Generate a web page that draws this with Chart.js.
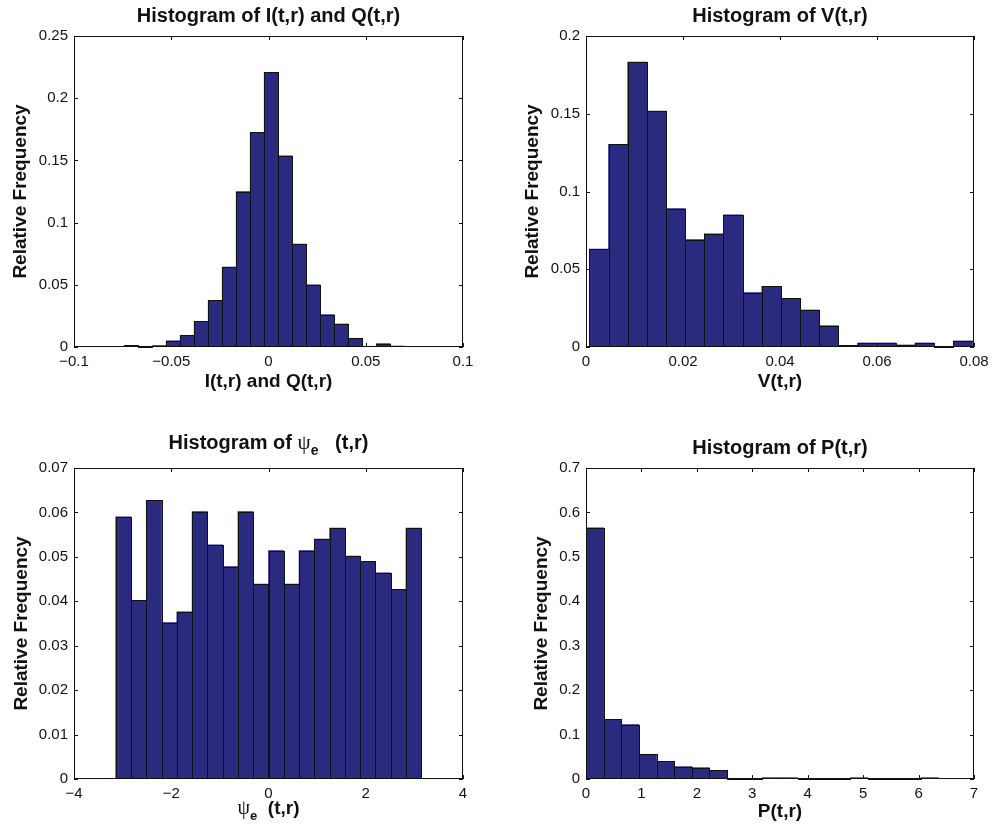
<!DOCTYPE html>
<html>
<head>
<meta charset="utf-8">
<script src="https://cdn.jsdelivr.net/npm/chart.js@4.4.1/dist/chart.umd.min.js"></script>
<style>
  html, body { margin: 0; padding: 0; background: #fff; }
  #page { position: relative; width: 995px; height: 827px; }
  canvas { position: absolute; }
</style>
</head>
<body>
<div id="page">
  <canvas id="chartIQ" width="497" height="413" style="left:0;top:0"></canvas>
  <canvas id="chartV" width="498" height="413" style="left:497px;top:0"></canvas>
  <canvas id="chartPsi" width="497" height="414" style="left:0;top:413px"></canvas>
  <canvas id="chartP" width="498" height="414" style="left:497px;top:413px"></canvas>
</div>
<script>
// bin centres + relative frequencies
const iqCenters = [-0.0706, -0.0634, -0.0562, -0.0490, -0.0418, -0.0346, -0.0274, -0.0202, -0.0130, -0.0058,
                   0.0014, 0.0086, 0.0158, 0.0230, 0.0302, 0.0374, 0.0446, 0.0518, 0.0590, 0.0662];
const iqFreq = [0.0013, 0, 0.0012, 0.005, 0.0094, 0.0206, 0.0375, 0.0642, 0.125, 0.1726,
                0.2208, 0.1536, 0.0827, 0.050, 0.026, 0.0185, 0.007, 0.0006, 0.0027, 0.0008];

const vCenters = [0.00267, 0.00662, 0.01057, 0.01452, 0.01847, 0.02242, 0.02637, 0.03032, 0.03427, 0.03822,
                  0.04217, 0.04612, 0.05007, 0.05402, 0.05797, 0.06192, 0.06587, 0.06982, 0.07377, 0.07772];
const vFreq = [0.0629, 0.1303, 0.1833, 0.1517, 0.089, 0.0691, 0.0727, 0.085, 0.035, 0.039,
               0.0313, 0.0238, 0.0137, 0.001, 0.0026, 0.0026, 0.0013, 0.0026, 0, 0.0039];

const psiCenters = [-2.9845, -2.6704, -2.3562, -2.0420, -1.7279, -1.4137, -1.0996, -0.7854, -0.4712, -0.1571,
                    0.1571, 0.4712, 0.7854, 1.0996, 1.4137, 1.7279, 2.0420, 2.3562, 2.6704, 2.9845];
const psiFreq = [0.059, 0.0402, 0.0627, 0.0352, 0.0376, 0.0602, 0.0527, 0.0478, 0.0602, 0.0439,
                 0.0514, 0.0439, 0.0514, 0.054, 0.0565, 0.0502, 0.049, 0.0464, 0.0427, 0.0565];

const pCenters = [0.159, 0.477, 0.795, 1.113, 1.431, 1.749, 2.067, 2.385, 2.703, 3.021,
                  3.339, 3.657, 3.975, 4.293, 4.611, 4.929, 5.247, 5.565, 5.883, 6.201];
const pFreq = [0.5656, 0.1344, 0.1224, 0.0556, 0.0398, 0.0278, 0.0255, 0.0195, 0.0005, 0.0005,
               0.003, 0.003, 0.001, 0.001, 0.001, 0.003, 0.0005, 0.0005, 0.001, 0.003];

const navy = '#2a2a7e';
const ink = '#111111';
const sans = "'Liberation Sans', Arial, Helvetica, sans-serif";

Chart.defaults.font.family = sans;
Chart.defaults.color = ink;

const fmt = v => {
    const r = Math.round(v * 1e6) / 1e6;
    return r < 0 ? '\u2212' + (-r) : String(r);
};

// matlab style box with ticks pointing inwards on all sides
const boxAxes = {
    id: 'boxAxes',
    beforeDatasetsDraw(chart) {
        const { ctx, chartArea: a, scales: { x, y } } = chart;
        const len = 4;
        ctx.save();
        ctx.strokeStyle = ink;
        ctx.lineWidth = 1;
        ctx.beginPath();
        x.ticks.forEach(t => {
            const px = Math.round(x.getPixelForValue(t.value)) + 0.5;
            ctx.moveTo(px, a.bottom); ctx.lineTo(px, a.bottom - len);
            ctx.moveTo(px, a.top); ctx.lineTo(px, a.top + len);
        });
        y.ticks.forEach(t => {
            const py = Math.round(y.getPixelForValue(t.value)) + 0.5;
            ctx.moveTo(a.left, py); ctx.lineTo(a.left + len, py);
            ctx.moveTo(a.right, py); ctx.lineTo(a.right - len, py);
        });
        ctx.stroke();
        ctx.strokeRect(Math.round(a.left) + 0.5, Math.round(a.top) + 0.5,
            Math.round(a.right - a.left) - 1, Math.round(a.bottom - a.top) - 1);
        ctx.restore();
    },
};

// crisp black patch edges around every bar, like matlab's hist
const barEdges = {
    id: 'barEdges',
    afterDatasetsDraw(chart) {
        const { ctx } = chart;
        const snap = v => Math.round(v) + 0.5;
        ctx.save();
        ctx.strokeStyle = ink;
        ctx.lineWidth = 1;
        chart.getDatasetMeta(0).data.forEach(bar => {
            const { x, y, base, width } = bar.getProps(['x', 'y', 'base', 'width'], true);
            const l = snap(x - width / 2), r = snap(x + width / 2);
            const t = snap(Math.min(y, base)), b = snap(Math.max(y, base)) - 1;
            ctx.strokeRect(l, t, r - l, b - t);
        });
        ctx.restore();
    },
};

function drawRuns(ctx, runs, cx, baseline) {
    ctx.save();
    ctx.fillStyle = ink;
    ctx.textBaseline = 'alphabetic';
    ctx.textAlign = 'left';
    let total = 0;
    runs.forEach(r => { ctx.font = r[1]; total += ctx.measureText(r[0]).width; });
    let x = cx - total / 2;
    runs.forEach(r => {
        ctx.font = r[1];
        ctx.fillText(r[0], x, baseline + r[2]);
        x += ctx.measureText(r[0]).width;
    });
    ctx.restore();
}

// title and x label with the subscript e
const psiLabels = {
    id: 'psiLabels',
    afterDraw(chart) {
        const { ctx, chartArea: a } = chart;
        const cx = (a.left + a.right) / 2;
        drawRuns(ctx, [
            ['Histogram of ', 'bold 20px ' + sans, 0],
            ['\u03c8', "21px 'Liberation Serif', serif", 0],
            ['e', 'bold 14px ' + sans, 6],
            ['   (t,r)', 'bold 20px ' + sans, 0],
        ], cx, a.top - 19);
        drawRuns(ctx, [
            ['\u03c8', "20px 'Liberation Serif', serif", 0],
            ['e', 'bold 13px ' + sans, 6],
            ['  (t,r)', 'bold 19px ' + sans, 0],
        ], cx, a.bottom + 35);
    },
};

function histogram(id, centers, freq, o) {
    return new Chart(document.getElementById(id), {
        type: 'bar',
        data: {
            datasets: [{
                data: centers.map((c, i) => ({ x: c, y: freq[i] })),
                backgroundColor: navy,
                borderWidth: 0,
                barPercentage: 1,
                categoryPercentage: 1,
            }],
        },
        options: {
            responsive: false,
            animation: false,
            layout: { padding: { left: 0, top: o.padTop || 0, right: o.padRight, bottom: 0 } },
            plugins: {
                legend: { display: false },
                tooltip: { enabled: false },
                title: {
                    display: !!o.title,
                    text: o.title,
                    fullSize: false,
                    color: ink,
                    font: { size: 20, weight: 'bold', lineHeight: 1.2 },
                    padding: o.titlePad,
                },
            },
            scales: {
                x: {
                    type: 'linear',
                    min: o.xMin, max: o.xMax,
                    offset: false,
                    grid: { display: false, drawTicks: false, offset: false },
                    border: { display: false },
                    ticks: { stepSize: o.xStep, autoSkip: false, maxRotation: 0, padding: 6,
                             color: ink, font: { size: 15 }, callback: fmt },
                    title: { display: !!o.xTitle, text: o.xTitle, color: ink,
                             font: { size: 19, weight: 'bold', lineHeight: 1.2 },
                             padding: { top: 0, bottom: o.xTitlePad || 0 } },
                    afterFit: s => { s.height = o.xHeight; },
                },
                y: {
                    min: 0, max: o.yMax,
                    grid: { display: false, drawTicks: false },
                    border: { display: false },
                    ticks: { stepSize: o.yStep, padding: 6, color: ink, font: { size: 15 }, callback: fmt },
                    title: { display: true, text: 'Relative Frequency', color: ink,
                             font: { size: 19, weight: 'bold', lineHeight: 1.2 },
                             padding: { top: o.yTitlePad, bottom: 0 } },
                    afterFit: s => { s.width = o.yWidth; },
                },
            },
        },
        plugins: [boxAxes, barEdges].concat(o.extra || []),
    });
}

histogram('chartIQ', iqCenters, iqFreq, {
    title: 'Histogram of I(t,r) and Q(t,r)', titlePad: { top: 4, bottom: 8 },
    xTitle: 'I(t,r) and Q(t,r)', xTitlePad: 19.6,
    xMin: -0.1, xMax: 0.1, xStep: 0.05, yMax: 0.25, yStep: 0.05,
    padRight: 34, yWidth: 74, xHeight: 66, yTitlePad: 9,
});

histogram('chartV', vCenters, vFreq, {
    title: 'Histogram of V(t,r)', titlePad: { top: 4, bottom: 8 },
    xTitle: 'V(t,r)', xTitlePad: 19.6,
    xMin: 0, xMax: 0.08, xStep: 0.02, yMax: 0.2, yStep: 0.05,
    padRight: 21, yWidth: 89, xHeight: 66, yTitlePad: 24.6,
});

histogram('chartPsi', psiCenters, psiFreq, {
    padTop: 55,
    xMin: -4, xMax: 4, xStep: 2, yMax: 0.07, yStep: 0.01,
    padRight: 34, yWidth: 74, xHeight: 48, yTitlePad: 10.6,
    extra: [psiLabels],
});

histogram('chartP', pCenters, pFreq, {
    title: 'Histogram of P(t,r)', titlePad: { top: 23, bottom: 8 },
    xTitle: 'P(t,r)', xTitlePad: 3.6,
    xMin: 0, xMax: 7, xStep: 1, yMax: 0.7, yStep: 0.1,
    padRight: 21, yWidth: 89, xHeight: 48, yTitlePad: 33.3,
});
</script>
</body>
</html>
